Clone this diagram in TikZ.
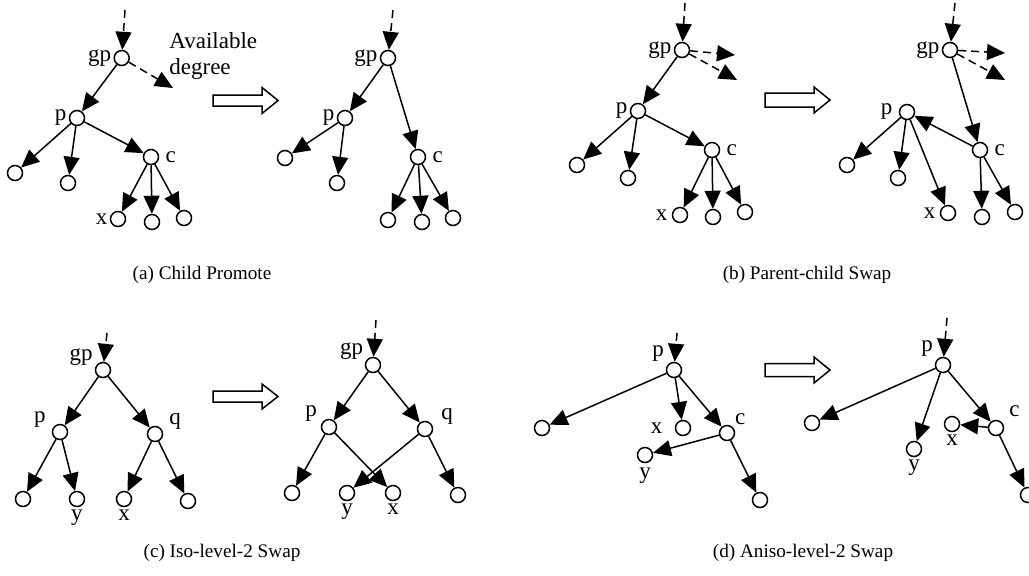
\documentclass[tikz,border=0pt]{standalone}
\usepackage{fontspec}
\setmainfont{Liberation Serif}
\usetikzlibrary{arrows.meta}

\begin{document}
\begin{tikzpicture}[x=0.5pt,y=-0.5pt,
    vtx/.style={circle,draw,line width=0.75pt,minimum size=7.5pt,inner sep=0pt},
    lbl/.style={font=\fontsize{11.5}{13}\selectfont,inner sep=1pt},
    captxt/.style={font=\fontsize{9.6}{11}\selectfont},
    arr/.style={line width=0.75pt,-{Triangle[length=9pt,width=8pt]}},
    dsh/.style={arr,dash pattern=on 4pt off 2.5pt},
    hollow/.style={line width=0.75pt,fill=white}]
    \useasboundingbox (0,0) rectangle (1029,575);

    % (a) Child Promote, before
    \coordinate (a1in) at (125,10);
    \coordinate (a1av) at (173,88);
    \node[vtx,label={[lbl]left:gp}] (a1gp) at (121.7,58) {};
    \node[vtx,label={[lbl]left:p}] (a1p) at (77,118) {};
    \node[vtx,label={[lbl,label distance=2pt]right:c}] (a1c) at (151,157) {};
    \node[vtx] (a1l1) at (15,173) {};
    \node[vtx] (a1l2) at (68,183) {};
    \node[vtx,label={[lbl]left:x}] (a1x) at (118,219) {};
    \node[vtx] (a1l4) at (152,222) {};
    \node[vtx] (a1l5) at (184,218) {};
    \node[lbl,align=left,anchor=west] (avail) at (167,56) {Available\\[0pt]degree};
    \draw[dsh] (a1in) -- (a1gp);
    \draw[dsh] (a1gp) -- (a1av);
    \draw[arr] (a1gp) -- (a1p);
    \draw[arr] (a1p) -- (a1l1);
    \draw[arr] (a1p) -- (a1l2);
    \draw[arr] (a1p) -- (a1c);
    \draw[arr] (a1c) -- (a1x);
    \draw[arr] (a1c) -- (a1l4);
    \draw[arr] (a1c) -- (a1l5);

    \draw[hollow] (213,95) -- ++(49,0) -- ++(0,-7.5) -- ++(16,13) -- ++(-16,13) -- ++(0,-7.5) -- ++(-49,0) -- cycle;

    % (a) Child Promote, after
    \coordinate (a2in) at (393,10);
    \node[vtx,label={[lbl]left:gp}] (a2gp) at (388,58) {};
    \node[vtx,label={[lbl]left:p}] (a2p) at (345,118) {};
    \node[vtx,label={[lbl,label distance=2pt]right:c}] (a2c) at (418,157) {};
    \node[vtx] (a2l1) at (285,158) {};
    \node[vtx] (a2l2) at (337,183) {};
    \node[vtx] (a2x) at (388,220) {};
    \node[vtx] (a2l4) at (422,222) {};
    \node[vtx] (a2l5) at (453,218) {};
    \draw[dsh] (a2in) -- (a2gp);
    \draw[arr] (a2gp) -- (a2p);
    \draw[arr] (a2gp) -- (a2c);
    \draw[arr] (a2p) -- (a2l1);
    \draw[arr] (a2p) -- (a2l2);
    \draw[arr] (a2c) -- (a2x);
    \draw[arr] (a2c) -- (a2l4);
    \draw[arr] (a2c) -- (a2l5);

    \node[captxt] (capa) at (202,275) {(a) Child Promote};

    % (b) Parent-child Swap, before
    \coordinate (b1in) at (685,3);
    \coordinate (b1o1) at (735,55);
    \coordinate (b1o2) at (737,80);
    \node[vtx,label={[lbl]left:gp}] (b1gp) at (682,50) {};
    \node[vtx,label={[lbl]left:p}] (b1p) at (638,111) {};
    \node[vtx,label={[lbl,label distance=2pt]right:c}] (b1c) at (712,150) {};
    \node[vtx] (b1l1) at (577,165) {};
    \node[vtx] (b1l2) at (628,178) {};
    \node[vtx,label={[lbl,label distance=1pt]left:x}] (b1x) at (680,215) {};
    \node[vtx] (b1l4) at (713,217) {};
    \node[vtx] (b1l5) at (745,212) {};
    \draw[dsh] (b1in) -- (b1gp);
    \draw[dsh] (b1gp) -- (b1o1);
    \draw[dsh] (b1gp) -- (b1o2);
    \draw[arr] (b1gp) -- (b1p);
    \draw[arr] (b1p) -- (b1l1);
    \draw[arr] (b1p) -- (b1l2);
    \draw[arr] (b1p) -- (b1c);
    \draw[arr] (b1c) -- (b1x);
    \draw[arr] (b1c) -- (b1l4);
    \draw[arr] (b1c) -- (b1l5);

    \draw[hollow] (765,93) -- ++(49,0) -- ++(0,-6) -- ++(16,13) -- ++(-16,13) -- ++(0,-6) -- ++(-49,0) -- cycle;

    % (b) Parent-child Swap, after
    \coordinate (b2in) at (955,3);
    \coordinate (b2o1) at (1005,53);
    \coordinate (b2o2) at (1005,80);
    \node[vtx,label={[lbl]left:gp}] (b2gp) at (950,50) {};
    \node[vtx,label={[lbl,label distance=2pt]left:p}] (b2p) at (907,112) {};
    \node[vtx,label={[lbl,label distance=2pt]right:c}] (b2c) at (980,150) {};
    \node[vtx] (b2l1) at (847,165) {};
    \node[vtx] (b2l2) at (898,178) {};
    \node[vtx,label={[lbl,label distance=1pt]left:x}] (b2x) at (948,213) {};
    \node[vtx] (b2l4) at (982,217) {};
    \node[vtx] (b2l5) at (1015,212) {};
    \draw[dsh] (b2in) -- (b2gp);
    \draw[dsh] (b2gp) -- (b2o1);
    \draw[dsh] (b2gp) -- (b2o2);
    \draw[arr] (b2gp) -- (b2c);
    \draw[arr] (b2c) -- (b2p);
    \draw[arr] (b2p) -- (b2l1);
    \draw[arr] (b2p) -- (b2l2);
    \draw[arr] (b2p) -- (b2x);
    \draw[arr] (b2c) -- (b2l4);
    \draw[arr] (b2c) -- (b2l5);

    \node[captxt] (capb) at (807,275) {(b) Parent-child Swap};

    % (c) Iso-level-2 Swap, before
    \coordinate (c1in) at (107,333);
    \node[vtx,label={[lbl]165:gp}] (c1gp) at (103,370) {};
    \node[vtx,label={[lbl,label distance=2pt]170:p}] (c1p) at (60,432) {};
    \node[vtx,label={[lbl,label distance=2pt]10:q}] (c1q) at (155,434) {};
    \node[vtx] (c1l1) at (23,499) {};
    \node[vtx,label={[lbl]below:y}] (c1y) at (77,499) {};
    \node[vtx,label={[lbl]below:x}] (c1x) at (124,499) {};
    \node[vtx] (c1l4) at (188,501) {};
    \draw[dsh] (c1in) -- (c1gp);
    \draw[arr] (c1gp) -- (c1p);
    \draw[arr] (c1gp) -- (c1q);
    \draw[arr] (c1p) -- (c1l1);
    \draw[arr] (c1p) -- (c1y);
    \draw[arr] (c1q) -- (c1x);
    \draw[arr] (c1q) -- (c1l4);

    \draw[hollow] (213,391) -- ++(49,0) -- ++(0,-7) -- ++(16,12.5) -- ++(-16,12.5) -- ++(0,-7) -- ++(-49,0) -- cycle;

    % (c) Iso-level-2 Swap, after
    \coordinate (c2in) at (376,320);
    \node[vtx,label={[lbl]155:gp}] (c2gp) at (373,365) {};
    \node[vtx,label={[lbl,label distance=1pt]160:p}] (c2p) at (329,427) {};
    \node[vtx,label={[lbl,label distance=3pt]10:q}] (c2q) at (425,429) {};
    \node[vtx] (c2l1) at (292,493) {};
    \node[vtx,label={[lbl]below:y}] (c2y) at (347,493) {};
    \node[vtx,label={[lbl]below:x}] (c2x) at (393,493) {};
    \node[vtx] (c2l4) at (458,495) {};
    \draw[dsh] (c2in) -- (c2gp);
    \draw[arr] (c2gp) -- (c2p);
    \draw[arr] (c2gp) -- (c2q);
    \draw[arr] (c2p) -- (c2l1);
    \draw[arr] (c2p) -- (c2x);
    \draw[arr] (c2q) -- (c2y);
    \draw[arr] (c2q) -- (c2l4);

    \node[captxt] (capc) at (222,553) {(c) Iso-level-2 Swap};

    % (d) Aniso-level-2 Swap, before
    \coordinate (d1in) at (677,333);
    \node[vtx,label={[lbl,label distance=1pt]140:p}] (d1p) at (674,370) {};
    \node[vtx] (d1l1) at (542,428) {};
    \node[vtx,label={[lbl,label distance=5pt]left:x}] (d1x) at (683,428) {};
    \node[vtx,label={[lbl]45:c}] (d1c) at (727,433) {};
    \node[vtx,label={[lbl,label distance=1pt]below:y}] (d1y) at (645,455) {};
    \node[vtx] (d1l5) at (760,500) {};
    \draw[dsh] (d1in) -- (d1p);
    \draw[arr] (d1p) -- (d1l1);
    \draw[arr] (d1p) -- (d1x);
    \draw[arr] (d1p) -- (d1c);
    \draw[arr] (d1c) -- (d1y);
    \draw[arr] (d1c) -- (d1l5);

    \draw[hollow] (765,363.5) -- ++(49,0) -- ++(0,-6.5) -- ++(16,13) -- ++(-16,13) -- ++(0,-6.5) -- ++(-49,0) -- cycle;

    % (d) Aniso-level-2 Swap, after
    \coordinate (d2in) at (947,318);
    \node[vtx,label={[lbl,label distance=1pt]140:p}] (d2p) at (943,365) {};
    \node[vtx] (d2l1) at (812,423) {};
    \node[vtx,label={[lbl]below:y}] (d2y) at (914,449) {};
    \node[vtx,label={[lbl]below:x}] (d2x) at (952,424) {};
    \node[vtx,label={[lbl,label distance=3pt]40:c}] (d2c) at (996,428) {};
    \node[vtx] (d2l5) at (1028,495) {};
    \draw[dsh] (d2in) -- (d2p);
    \draw[arr] (d2p) -- (d2l1);
    \draw[arr] (d2p) -- (d2y);
    \draw[arr] (d2p) -- (d2c);
    \draw[arr] (d2c) -- (d2x);
    \draw[arr] (d2c) -- (d2l5);

    \node[captxt] (capd) at (803,553) {(d) Aniso-level-2 Swap};
\end{tikzpicture}
\end{document}
